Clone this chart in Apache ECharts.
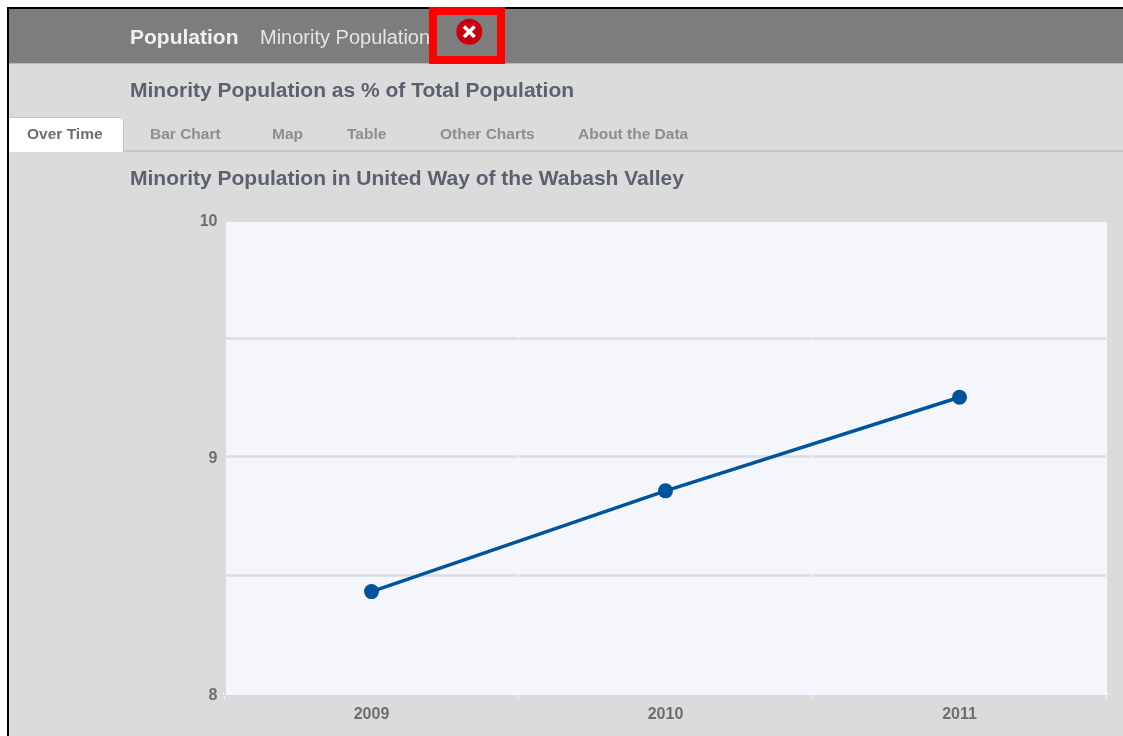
<!DOCTYPE html>
<html>
<head>
<meta charset="utf-8">
<style>html,body{margin:0;padding:0;background:#fff;overflow:hidden}#c{width:1123px;height:736px}</style>
<script src="https://cdn.jsdelivr.net/npm/echarts@6/dist/echarts.min.js"></script>
</head>
<body>
<div id="c"></div>
<script>
var categories = ['2009', '2010', '2011'];
var values = [8.43, 8.855, 9.25];
var yTicks = [8, 8.5, 9, 9.5, 10];
var tabs = [
  {t:'Over Time', x:27}, {t:'Bar Chart', x:150}, {t:'Map', x:272},
  {t:'Table', x:347}, {t:'Other Charts', x:440}, {t:'About the Data', x:578}
];
var font = '"Liberation Sans", Arial, sans-serif';
function txt(s, x, y, size, weight, fill) {
  return {type:'text', x:x, y:y, silent:true, z:5,
    style:{text:s, x:0, y:0, fill:fill, font:weight+' '+size+'px '+font, textVerticalAlign:'middle'}};
}
function rect(x, y, w, h, fill, z) {
  return {type:'rect', silent:true, z:z||1, shape:{x:x,y:y,width:w,height:h}, style:{fill:fill}};
}
var g = [
  rect(8, 9, 1115, 727, '#dbdbdb', 0),
  rect(8, 9, 1115, 54, '#7d7d7d', 1),
  rect(9, 63, 1114, 1, '#b5b5b5', 1),
  rect(7, 7, 1116, 2, '#000', 6),
  rect(7, 7, 2, 729, '#000', 6),
  txt('Population', 130, 38, 21, 'bold', '#f0f0f0'),
  txt('Minority Population', 260, 38, 20, 'normal', '#e4e4e4'),
  {type:'rect', silent:true, z:7, shape:{x:433,y:11,width:68,height:49}, style:{fill:'none', stroke:'#fe0000', lineWidth:8}},
  {type:'circle', silent:true, z:7, shape:{cx:469.3,cy:31.7,r:13}, style:{fill:'#c8000f'}},
  {type:'line', silent:true, z:8, shape:{x1:464,y1:26.4,x2:474.6,y2:37}, style:{stroke:'#fff', lineWidth:3.5}},
  {type:'line', silent:true, z:8, shape:{x1:474.6,y1:26.4,x2:464,y2:37}, style:{stroke:'#fff', lineWidth:3.5}},
  txt('Minority Population as % of Total Population', 130, 91, 21, 'bold', '#5a6270'),
  rect(9, 150, 1114, 2, '#c3c5cb', 1),
  {type:'rect', silent:true, z:2, shape:{x:9,y:118,width:114,height:34,r:[0,3,0,0]}, style:{fill:'#fff'}},
  {type:'polyline', silent:true, z:3, shape:{points:[[9,117.5],[120,117.5],[123.5,121],[123.5,151]]}, style:{fill:'none', stroke:'#c3c5cb', lineWidth:1}},
  txt('Minority Population in United Way of the Wabash Valley', 130, 179, 21, 'bold', '#5a6270'),
  rect(224, 218, 885, 4, '#dbdbdb', 5),
  rect(224, 218, 2, 478, '#dbdbdb', 5)
];
tabs.forEach(function(d, i){ g.push(txt(d.t, d.x, 135, 15.5, 'bold', i === 0 ? '#6e6e6e' : '#8e8e8e')); });

var chart = echarts.init(document.getElementById('c'), null, {renderer:'canvas'});
chart.setOption({
  animation:false,
  backgroundColor:'#fff',
  graphic:{elements:g},
  grid:{left:224.5, right:16.5, top:219.5, bottom:42.5, show:true, backgroundColor:'#f4f6fb', borderWidth:0, z:2},
  xAxis:{type:'category', data:categories, boundaryGap:true, z:3,
    axisLine:{show:true, lineStyle:{color:'#f4f6fb', width:3}},
    axisTick:{show:true, length:5, inside:false, alignWithLabel:false, lineStyle:{color:'#f4f6fb', width:1}},
    axisLabel:{show:true, color:'#6e6e6e', fontFamily:font, fontWeight:'bold', fontSize:16, margin:13},
    splitLine:{show:true, lineStyle:{color:'#f6f7fb', width:1}}
  },
  yAxis:{type:'value', min:yTicks[0], max:yTicks[yTicks.length-1], interval:yTicks[1]-yTicks[0], z:3,
    axisLine:{show:false}, axisTick:{show:false},
    splitLine:{show:true, lineStyle:{color:'#dcdde2', width:2.5}},
    axisLabel:{show:true, margin:7, verticalAlign:'top', lineHeight:4, color:'#6e6e6e', fontFamily:font, fontWeight:'bold', fontSize:16,
      formatter:function(v){return v % 1 === 0 ? String(v) : '';}}
  },
  series:[{type:'line', data:values, z:4, symbol:'circle', symbolSize:15, showSymbol:true,
    lineStyle:{color:'#00549b', width:3.5}, itemStyle:{color:'#00549b'}}]
});
</script>
</body>
</html>
